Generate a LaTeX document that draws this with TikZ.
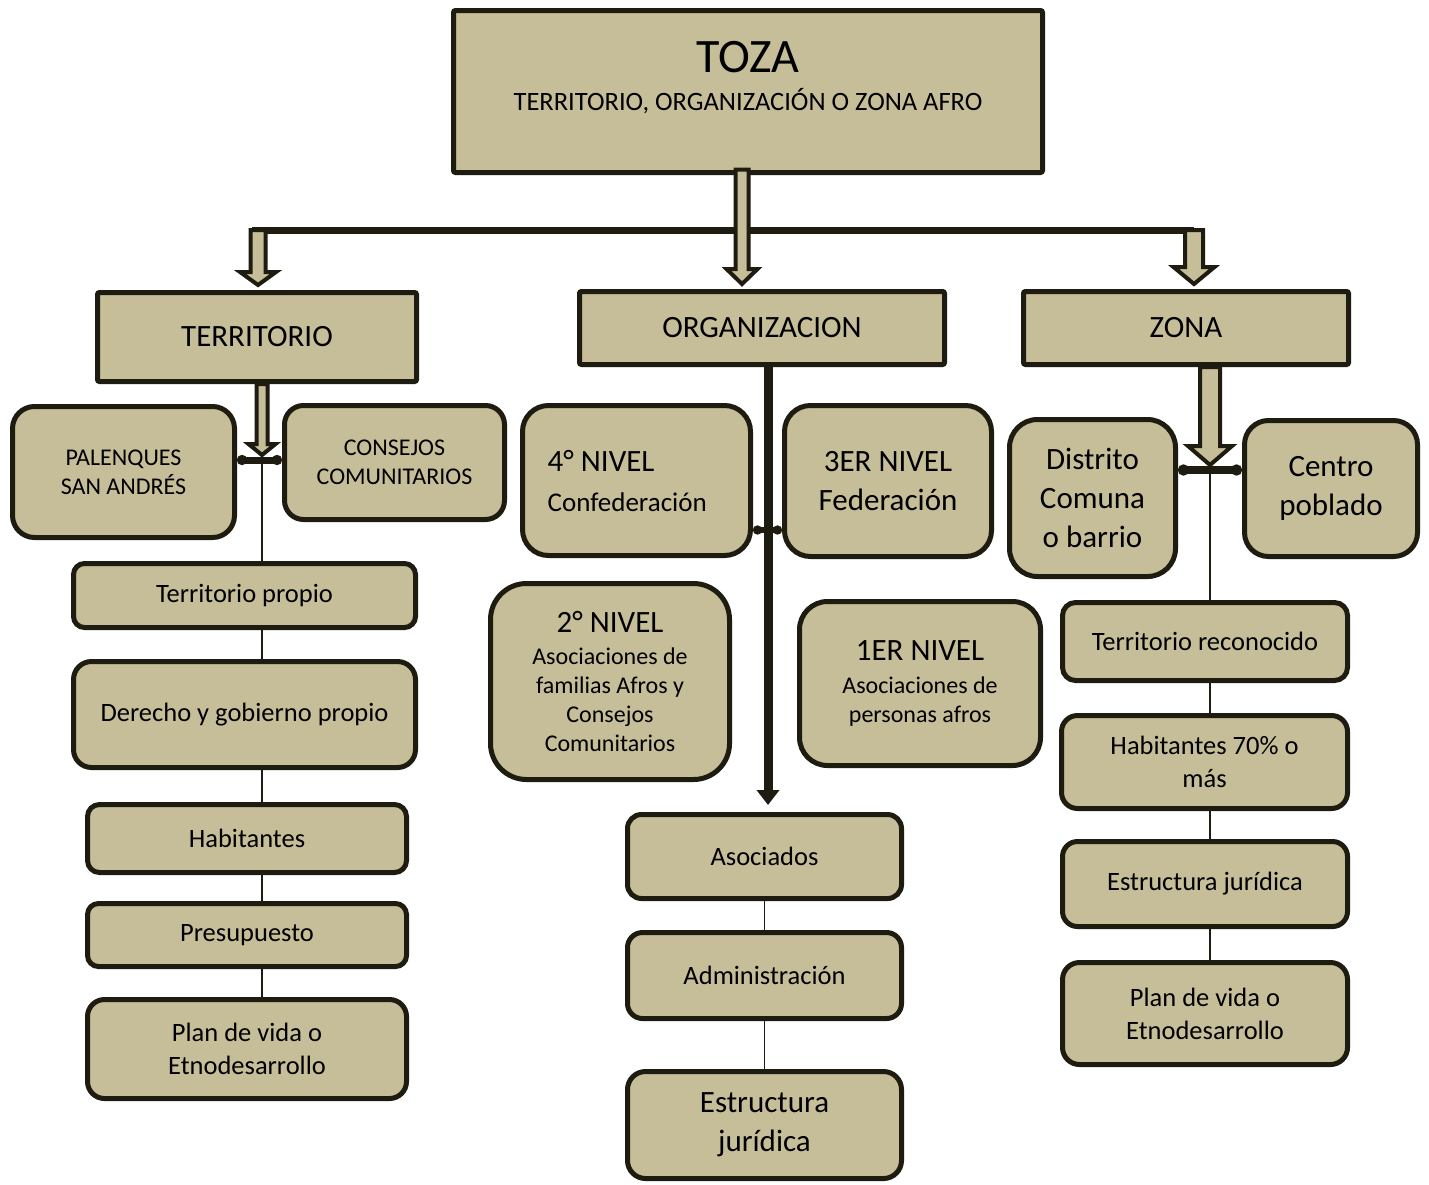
\documentclass[tikz,border=0pt]{standalone}
\usepackage{fontspec}
\setmainfont{Carlito}
\usetikzlibrary{arrows.meta,calc}
\definecolor{boxfill}{RGB}{197,190,152}
\definecolor{boxline}{RGB}{30,28,16}
\pgfdeclarelayer{bg}
\pgfsetlayers{bg,main}
\newcommand\blkarrow[5]{%
  \draw[blkarr] ($(#1)+(-#3,0)$) -- ($(#2)+(-#3,-#5)$) -- ($(#2)+(-#4,-#5)$) -- (#2)
    -- ($(#2)+(#4,-#5)$) -- ($(#2)+(#3,-#5)$) -- ($(#1)+(#3,0)$) -- cycle;}
\tikzset{
  box/.style={draw=boxline, fill=boxfill, line width=5pt, inner sep=0pt, align=center, text=black},
  sqbox/.style={box, rounded corners=2pt},
  fA/.style={font=\fontsize{26.5}{30}\selectfont},
  fB/.style={font=\fontsize{24}{29}\selectfont},
  fC/.style={font=\fontsize{26.5}{33}\selectfont},
  fD/.style={font=\fontsize{31}{39}\selectfont},
  blkarr/.style={draw=boxline, fill=boxfill, line width=4pt, line join=miter, miter limit=10},
  thinline/.style={draw=boxline, line width=1.5pt},
  junc/.style={draw=boxline, line cap=butt},
}
\begin{document}
\begin{tikzpicture}[x=1pt,y=-1pt]
\useasboundingbox (0,0) rectangle (1429,1184);
% top level
\node[sqbox, minimum width=589pt, minimum height=162pt] (toza) at (748,91.5) {};
\node[font=\fontsize{48}{50}\selectfont, anchor=base, inner sep=0pt] (tozat) at (748,72) {TOZA};
\node[fA, anchor=base, inner sep=0pt] (tozas) at (748,110) {TERRITORIO, ORGANIZACIÓN O ZONA AFRO};
\node[sqbox, fD, minimum width=319pt, minimum height=89pt] (terr) at (257,337) {TERRITORIO};
\node[sqbox, fD, minimum width=365pt, minimum height=73pt] (org) at (762,328) {ORGANIZACION};
\node[sqbox, fD, minimum width=325pt, minimum height=73pt] (zona) at (1186,328) {ZONA};
% territorio column
\node[box, fB, rounded corners=22pt, minimum width=222pt, minimum height=131pt] (pal) at (123.5,472) {PALENQUES\\SAN ANDRÉS};
\node[box, fB, rounded corners=19pt, minimum width=220pt, minimum height=114pt] (cons) at (394.5,462.5) {CONSEJOS\\COMUNITARIOS};
\node[box, fC, rounded corners=11pt, minimum width=342pt, minimum height=64pt] (tp) at (244.5,595.5) {Territorio propio};
\node[box, fC, rounded corners=18pt, minimum width=342pt, minimum height=106pt] (der) at (244.5,714.5) {Derecho y gobierno propio};
\node[box, fC, rounded corners=12pt, minimum width=319pt, minimum height=68pt] (hab) at (247,838.5) {Habitantes};
\node[box, fC, rounded corners=11pt, minimum width=319pt, minimum height=63pt] (pre) at (247,935) {Presupuesto};
\node[box, fC, rounded corners=17pt, minimum width=319pt, minimum height=99pt] (plan) at (247,1049) {Plan de vida o\\Etnodesarrollo};
% organizacion column
\node[box, rounded corners=26pt, minimum width=228pt, minimum height=150pt] (n4) at (636.5,480.5) {};
\node[anchor=west, align=left, inner sep=0pt, font=\fontsize{27}{40}\selectfont] (n4t) at ([xshift=27.5pt]n4.west) {{\fontsize{31}{39}\selectfont 4° NIVEL}\\Confederación};
\node[box, fD, rounded corners=26pt, minimum width=207pt, minimum height=151pt] (n3) at (888,481) {3ER NIVEL\\Federación};
\node[box, fB, rounded corners=36pt, minimum width=239pt, minimum height=196pt] (n2) at (610,681.5) {{\fontsize{31}{39}\selectfont 2° NIVEL}\\[3pt]Asociaciones de\\familias Afros y\\Consejos\\Comunitarios};
\node[box, fB, rounded corners=28pt, minimum width=241pt, minimum height=164pt] (n1) at (920,683.5) {{\fontsize{31}{39}\selectfont 1ER NIVEL}\\[4pt]Asociaciones de\\personas afros};
\node[box, fC, rounded corners=14pt, minimum width=274pt, minimum height=84pt] (aso) at (764.5,856.5) {Asociados};
\node[box, fC, rounded corners=15pt, minimum width=274pt, minimum height=86pt] (adm) at (764.5,975.5) {Administración};
\node[box, fD, rounded corners=18pt, minimum width=274pt, minimum height=107pt] (est) at (764.5,1125) {Estructura\\jurídica};
% zona column
\node[box, fD, rounded corners=28pt, minimum width=166pt, minimum height=157pt] (dis) at (1092.5,498) {Distrito\\Comuna\\o barrio};
\node[box, fD, rounded corners=24pt, minimum width=173pt, minimum height=136pt] (cen) at (1331,488.5) {Centro\\poblado};
\node[box, fC, rounded corners=13pt, minimum width=285pt, minimum height=78pt] (trec) at (1205,641.5) {Territorio reconocido};
\node[box, fC, rounded corners=16pt, minimum width=286pt, minimum height=93pt] (h70) at (1204.5,762) {Habitantes 70\% o\\más};
\node[box, fC, rounded corners=15pt, minimum width=285pt, minimum height=85pt] (estr) at (1205,884) {Estructura jurídica};
\node[box, fC, rounded corners=17pt, minimum width=285pt, minimum height=102pt] (planr) at (1205,1013.5) {Plan de vida o\\Etnodesarrollo};
% coordinates
\coordinate (tozaout) at ($(toza.south)+(-6,-5.5)$);
\coordinate (barL) at (258,230);
\coordinate (barR) at (1194,230);
\coordinate (jl) at (262,460);
\coordinate (jc) at (768,530);
\coordinate (jr) at (1210,470);
\coordinate[yshift=5pt] (tipT) at (tozaout |- org.north);
\coordinate[yshift=5pt] (tipL) at (barL |- terr.north);
\coordinate[yshift=5pt] (tipR) at (barR |- zona.north);
\coordinate (startTe) at (jl |- terr.south);
\coordinate[yshift=5pt] (tipTe) at (jl);
\coordinate (startZo) at (jr |- zona.south);
\coordinate[yshift=5pt] (tipZo) at (jr);
% thin lines behind
\begin{pgfonlayer}{bg}
\fill[white] (0,0) rectangle (1429,1184);
\draw[thinline] (jl) -- (jl |- plan.north);
\draw[thinline] (aso.south) -- (est.north);
\draw[thinline] (jr) -- (jr |- planr.north);
\end{pgfonlayer}
% top bar and block arrows
\draw[boxline, line width=7pt] ([xshift=-6pt]barL) -- (barR);
\blkarrow{tozaout}{tipT}{6.5}{15.5}{15}
\blkarrow{barL}{tipL}{7.5}{18}{13}
\blkarrow{barR}{tipR}{9}{20.5}{17}
\blkarrow{startTe}{tipTe}{5.5}{13.5}{11}
\blkarrow{startZo}{tipZo}{10}{22}{19}
% junctions
\draw[junc, line width=7pt, {Circle[length=10pt]}-{Circle[length=10pt]}] (jl -| pal.east) -- (jl -| cons.west);
\draw[junc, line width=6pt, {Circle[length=9pt]}-{Circle[length=9pt]}] (jc -| n4.east) -- (jc -| n3.west);
\draw[junc, line width=8pt, {Circle[length=11pt]}-{Circle[length=11pt]}] (jr -| dis.east) -- (jr -| cen.west);
% organizacion thick arrow
\coordinate[yshift=7pt] (tipC) at (jc |- aso.north);
\draw[boxline, line width=9pt, -{Triangle[width=22pt,length=15pt]}] (jc |- org.south) -- (tipC);
\end{tikzpicture}
\end{document}
